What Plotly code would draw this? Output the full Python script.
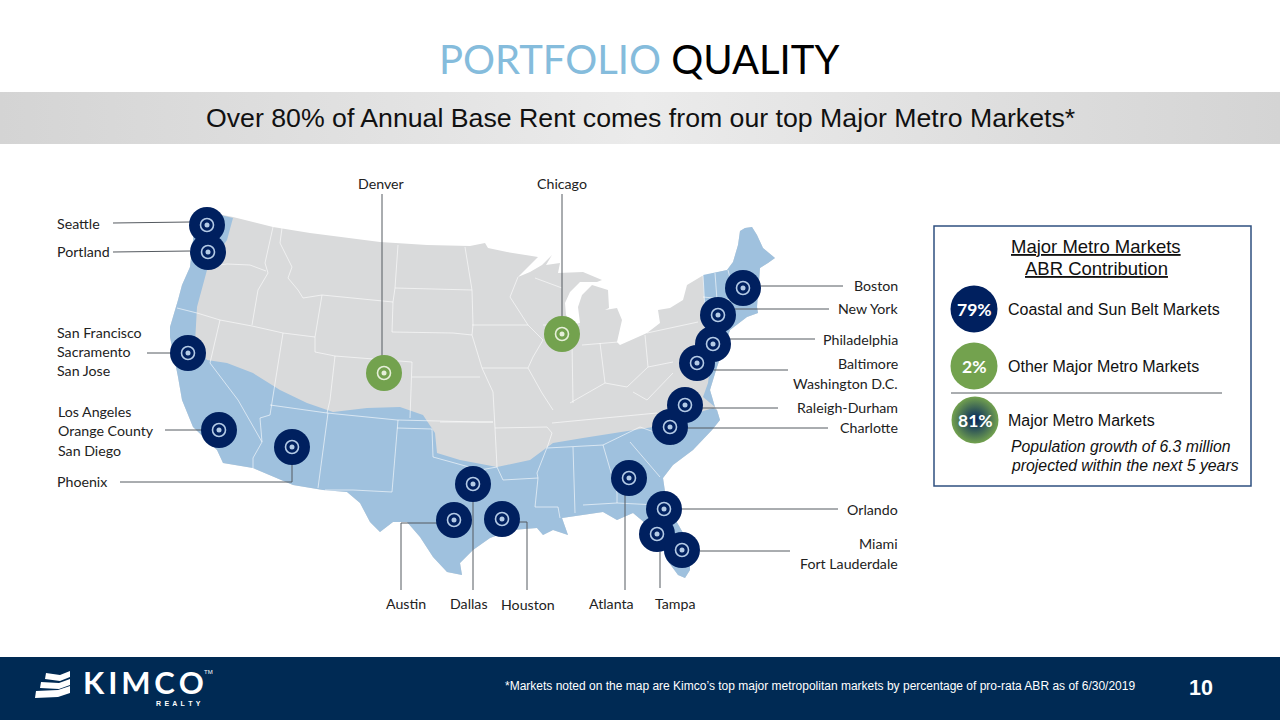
import plotly.graph_objects as go

# ---------- map outlines (in slide pixels) ----------
us_pts = [(233,217),(273,227),(310,233),(380,242),(427,245),(470,246),(485,243),(488,248),(507,252),(538,257),(518,277),(530,272),(542,265),(552,255),(546,265),(560,263),(558,273),(583,272),(602,280),(597,282),(580,282),(570,292),(565,303),(566,315),(572,325),(580,323),(578,307),(582,295),(592,285),(608,290),(609,308),(605,310),(617,308),(622,320),(617,342),(620,345),(647,333),(660,323),(658,310),(670,308),(683,300),(687,285),(702,276),(727,270),(733,262),(738,245),(740,231),(745,228),(752,227),(757,235),(763,248),(775,258),(768,263),(760,268),(757,307),(758,313),(747,317),(730,330),(717,367),(710,390),(715,407),(717,410),(720,420),(712,430),(693,450),(673,465),(663,478),(667,505),(690,545),(690,570),(685,578),(678,575),(667,560),(657,533),(633,513),(617,520),(603,512),(583,515),(562,518),(568,535),(553,530),(543,535),(537,528),(512,530),(490,538),(473,550),(460,563),(462,575),(447,572),(433,557),(420,537),(407,522),(393,522),(380,532),(370,522),(360,503),(347,492),(323,490),(293,485),(253,468),(223,463),(217,450),(193,427),(182,400),(178,377),(170,337),(170,327),(178,300),(182,285),(190,267),(193,240),(195,215),(212,213)]
us_x = [p[0] for p in us_pts]
us_y = [p[1] for p in us_pts]

sunbelt_x = [233,227,207,197,195,207,227,253,280,307,333,367,400,423,435,437,460,497,530,553,583,623,653,713,717,720,712,693,673,663,667,690,690,685,678,667,657,633,617,603,583,562,568,553,543,537,512,490,473,460,462,447,433,420,407,393,380,370,360,347,323,293,253,223,217,193,182,178,170,170,178,182,190,193,195,212]
sunbelt_y = [218,240,270,307,343,360,363,373,390,403,412,408,407,415,433,453,460,467,460,443,438,432,427,408,410,420,430,450,465,478,505,545,570,578,575,560,533,513,520,512,515,518,535,530,535,528,530,538,550,563,575,572,557,537,522,522,532,522,503,492,490,485,468,463,450,427,400,377,337,327,300,285,267,240,215,213]

northeast_x = [703,727,733,738,740,745,752,757,763,775,768,760,757,758,747,730,717,710,715,703,708,712,705,703]
northeast_y = [275,270,262,245,231,228,227,235,248,258,263,268,307,313,317,330,367,390,407,397,383,350,320,275]

borders = [
 [(273,227),(265,263),(268,273)], [(205,267),(227,264),(250,265),(266,271)], [(268,273),(258,290),(252,325)],
 [(177,308),(197,313),(220,320),(252,326),(283,333),(315,337)], [(220,320),(210,363),(238,400),(262,442)],
 [(262,442),(253,458),(253,468)], [(283,333),(272,400),(270,415),(260,418),(262,442)], [(270,405),(327,413)],
 [(315,337),(322,295)], [(315,337),(315,352),(335,356)], [(335,356),(330,400),(327,413)], [(322,295),(393,302),(392,332)],
 [(335,356),(412,362)], [(412,362),(410,418)], [(327,413),(397,420),(480,422),(493,422)], [(392,332),(453,333),(472,335)],
 [(412,377),(480,377)], [(282,228),(280,243),(292,267),(288,278),(298,290),(303,298),(322,295)],
 [(398,245),(395,288),(393,302)], [(395,288),(472,290)], [(465,247),(472,290),(473,325),(472,335),(482,368),(493,392),(495,428),(497,467),(503,480)],
 [(472,325),(528,325)], [(518,277),(510,297),(528,325),(543,340),(533,357),(528,368),(542,393),(553,410)], [(482,368),(528,368)],
 [(440,422),(493,422)], [(397,428),(432,429),(433,457),(480,470),(497,467)], [(398,420),(392,492),(353,490),(325,490)],
 [(328,413),(318,488)], [(503,480),(538,478)], [(495,428),(547,427),(552,433),(548,445),(537,473),(538,478),(535,507),(558,507),(560,518)],
 [(573,447),(575,513)], [(547,448),(603,445),(640,427),(657,433),(673,445)], [(603,445),(617,493),(617,503)], [(583,505),(617,503),(657,505)],
 [(630,442),(660,477)], [(552,423),(657,413)], [(572,343),(573,403)], [(570,403),(605,383),(627,387),(648,367)],
 [(600,343),(605,383)], [(582,345),(618,342)], [(645,335),(648,367),(673,362)], [(647,333),(698,322)], [(703,275),(705,310)],
 [(633,392),(647,400),(673,373)], [(543,325),(580,325)], [(535,278),(562,288)], [(715,273),(717,300)], [(728,270),(733,290)], [(703,297),(735,300)],
]

# ---------- markets ----------
navy_names = ["Seattle","Portland","San Francisco","Boston","New York","Philadelphia","Baltimore","Raleigh-Durham","Charlotte","Atlanta","Orlando","Tampa","Miami","Dallas","Austin","Houston","Los Angeles","Phoenix"]
navy_x = [207,208,188,743,718,713,697,685,670,629,664,657,682,473,454,502,219,292]
navy_y = [225,252,353,288,315,344,363,405,427,478,509,534,550,484,520,519,430,447]
green_names = ["Denver","Chicago"]
green_x = [384,562]
green_y = [373,334]

leaders = [
 [(113,223),(190,222)], [(113,252),(190,251)], [(147,353),(172,353)], [(382,194),(382,358)], [(562,194),(562,318)],
 [(760,286),(843,286)], [(735,309),(829,309)], [(730,339),(815,339)], [(714,370),(788,370)], [(702,408),(778,408)],
 [(687,428),(828,428)], [(682,509),(838,509)], [(700,551),(790,551)], [(165,430),(203,430)], [(120,482),(292,482),(292,463)],
 [(401,590),(401,523),(437,523)], [(473,500),(473,590)], [(518,522),(527,522),(527,590)], [(625,495),(625,590)], [(660,552),(660,588)],
]

left_labels = [("Seattle",55,223),("Portland",55,251),("San Francisco",55,332),("Sacramento",55,351),("San Jose",55,370),("Los Angeles",56,411),("Orange County",56,430),("San Diego",56,450),("Phoenix",55,481)]
right_labels = [("Boston",285),("New York",308),("Philadelphia",339),("Baltimore",363),("Washington D.C.",383),("Raleigh-Durham",407),("Charlotte",427),("Orlando",509),("Miami",543),("Fort Lauderdale",563)]
centre_labels = [("Denver",381,183),("Chicago",562,183),("Austin",406,603),("Dallas",469,603),("Houston",528,604),("Atlanta",611,603),("Tampa",675,603)]

share_labels = ["79%","2%","81%"]
share_x = [974,974,975]
share_y = [309,366,420]
share_text = ["Coastal and Sun Belt Markets","Other Major Metro Markets","Major Metro Markets"]

logo_x = [[36,58,70,70,58,35],[41,59,70,70,59,40],[46,60,70,70,60,45]]
logo_y = [[691,690,686,693,697,698],[682,683,679,685,689,688],[673,675,671,677,681,679]]

NAVY="#00205f"; GREEN="#73a24e"; BLUE="#9fc1de"; GRAY="#d9dadb"; FOOT="#002a54"
LABEL="Lato"; SANS="Liberation Sans"

def polyline(segs):
    xs,ys=[],[]
    for s in segs:
        xs+= [p[0] for p in s]+[None]
        ys+= [p[1] for p in s]+[None]
    return xs,ys

fig=go.Figure()
def area(x,y,color,**kw):
    fig.add_trace(go.Scatter(x=x,y=y,mode="lines",fill="toself",fillcolor=color,line=dict(width=0,color=color),hoverinfo="skip",showlegend=False,**kw))

# header band, footer
area([0,1280,1280,0],[92,92,144,144],"#dcdcdc")
fig.data[-1].update(fillgradient=dict(type="horizontal",colorscale=[[0,"#d4d4d4"],[0.5,"#ebebeb"],[1,"#d4d4d4"]]))
area([0,1280,1280,0],[657,657,720,720],FOOT)

# map
area(us_x,us_y,GRAY)
area(sunbelt_x,sunbelt_y,BLUE)
area(northeast_x,northeast_y,BLUE)
bx,by=polyline(borders)
fig.add_trace(go.Scatter(x=bx,y=by,mode="lines",line=dict(color="rgba(255,255,255,0.6)",width=1),hoverinfo="skip",showlegend=False))

# leaders
lx,ly=polyline(leaders)
fig.add_trace(go.Scatter(x=lx,y=ly,mode="lines",line=dict(color="#555a60",width=1),hoverinfo="skip",showlegend=False))

# pins
for xs,ys,names,col,ring in [(navy_x,navy_y,navy_names,NAVY,"#b4cbe6"),(green_x,green_y,green_names,GREEN,"#e6efd9")]:
    fig.add_trace(go.Scatter(x=xs,y=ys,text=names,mode="markers",marker=dict(size=36,color=col,line=dict(width=0)),hoverinfo="text",showlegend=False))
    fig.add_trace(go.Scatter(x=xs,y=ys,mode="markers",marker=dict(size=13,color="rgba(0,0,0,0)",line=dict(width=1.6,color=ring)),hoverinfo="skip",showlegend=False))
    fig.add_trace(go.Scatter(x=xs,y=ys,mode="markers",marker=dict(size=5,color=ring,line=dict(width=0)),hoverinfo="skip",showlegend=False))

# logo
for x,y in zip(logo_x,logo_y):
    area(x,y,"#ffffff")

# share bubbles
fig.add_trace(go.Scatter(x=share_x,y=share_y,mode="markers",
    marker=dict(size=47,color=[NAVY,GREEN,GREEN],line=dict(width=0),
                gradient=dict(type=["none","none","radial"],color=[NAVY,GREEN,NAVY])),
    hoverinfo="skip",showlegend=False))

ann=[]
def T(text,x,y,size,family=LABEL,color="#222222",anchor="left",**kw):
    ann.append(dict(text=text,x=x,y=y,xref="x",yref="y",xanchor=anchor,yanchor="middle",showarrow=False,
                    font=dict(family=family,size=size,color=color,**kw),align=anchor))

T('<span style="color:#85bcdc">PORTFOLIO</span> QUALITY',639,59,40,color="#000000",anchor="center")
T("Over 80% of Annual Base Rent comes from our top Major Metro Markets*",640,118,26.7,family=SANS,color="#111111",anchor="center")
for n,x,y in left_labels: T(n,x,y,14.2)
for n,y in right_labels: T(n,900,y,14.2,anchor="right")
for n,x,y in centre_labels: T(n,x,y,14.2,anchor="center")
T("<u>Major Metro Markets</u>",1096,246,18.5,family=SANS,color="#111111",anchor="center")
T("<u>ABR Contribution</u>",1096,268,18.5,family=SANS,color="#111111",anchor="center")
for s,x,y in zip(share_labels,share_x,share_y): T("<b>%s</b>"%s,x,y,17.5,color="#ffffff",anchor="center")
for s,y in zip(share_text,[309,366,420]): T(s,1006,y,16,family=SANS,color="#111111")
T("<i>Population growth of 6.3 million</i>",1009,446,15.8,family=SANS,color="#111111")
T("<i>projected within the next 5 years</i>",1009,465,15.8,family=SANS,color="#111111")
T("*Markets noted on the map are Kimco’s top major metropolitan markets by percentage of pro-rata ABR as of 6/30/2019",1137,686,12,family=SANS,color="#ffffff",anchor="right")
T("<b>10</b>",1201,688,21.5,family=SANS,color="#ffffff",anchor="center")
T("<b>K\u2009I\u2009M\u2009C\u2009O</b>",143,682,31,color="#ffffff",anchor="center")
T("TM",208,672,6,family=SANS,color="#ffffff",anchor="center")
T("<b>R\u2009 E\u2009 A\u2009 L\u2009 T\u2009 Y</b>",178,703,7,family=SANS,color="#ffffff",anchor="center")

shapes=[dict(type="rect",xref="x",yref="y",x0=934,y0=226,x1=1251,y1=486,line=dict(color="#2f5080",width=1.5),fillcolor="rgba(0,0,0,0)",layer="below"),
        dict(type="line",xref="x",yref="y",x0=951,y0=393,x1=1222,y1=393,line=dict(color="#555a60",width=1))]

fig.update_layout(width=1280,height=720,margin=dict(l=0,r=0,t=0,b=0),paper_bgcolor="#ffffff",plot_bgcolor="#ffffff",
    xaxis=dict(range=[0,1280],visible=False,fixedrange=True),yaxis=dict(range=[720,0],visible=False,fixedrange=True),
    annotations=ann,shapes=shapes,showlegend=False)
fig.write_html("out.html",config={"displayModeBar":False},post_script="document.body.style.margin='0';")
